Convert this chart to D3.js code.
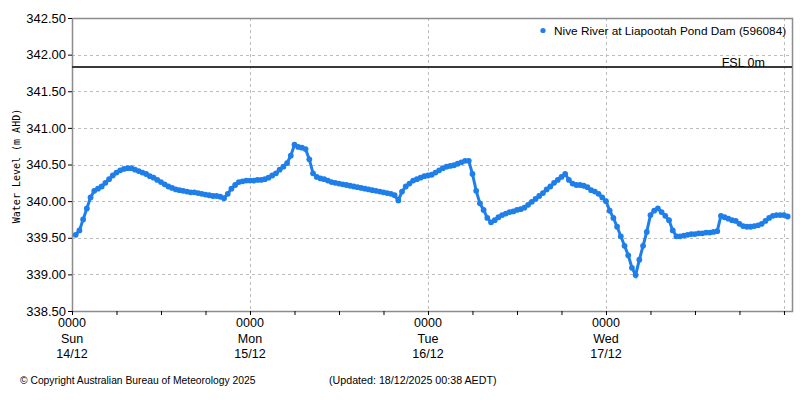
<!DOCTYPE html>
<html>
<head>
<meta charset="utf-8">
<script src="https://cdn.jsdelivr.net/npm/d3@7"></script>
<style>
  html, body { margin: 0; padding: 0; background: #fff; }
  svg { display: block; }
</style>
</head>
<body>
<svg id="chart" width="800" height="400"></svg>
<script>
// ---- data ----
const seriesName = "Nive River at Liapootah Pond Dam (596084)";
const startTime = Date.UTC(2025, 11, 14, 0, 30); // first reading 14/12 00:30
const stepMinutes = 30;
const waterLevel = [
  // Sun 14/12 00:30 -> 15/12 00:00
  339.54, 339.60, 339.75, 339.90, 340.05, 340.14, 340.17, 340.20, 340.25, 340.30,
  340.35, 340.39, 340.42, 340.44, 340.45, 340.45, 340.43, 340.41, 340.39, 340.37,
  340.34, 340.32, 340.29, 340.26, 340.23, 340.20, 340.18, 340.16, 340.15, 340.14,
  340.13, 340.12, 340.12, 340.11, 340.10, 340.09, 340.08, 340.07, 340.07, 340.06,
  340.04, 340.10, 340.17, 340.22, 340.26, 340.27, 340.28, 340.28,
  // Mon 15/12 00:30 -> 16/12 00:00
  340.28, 340.29, 340.29, 340.30, 340.32, 340.35, 340.38, 340.43, 340.47, 340.52,
  340.62, 340.77, 340.74, 340.73, 340.71, 340.57, 340.38, 340.33, 340.31, 340.30,
  340.28, 340.26, 340.25, 340.24, 340.23, 340.22, 340.21, 340.20, 340.19, 340.18,
  340.17, 340.16, 340.15, 340.14, 340.13, 340.12, 340.11, 340.10, 340.08, 340.01,
  340.13, 340.20, 340.24, 340.28, 340.30, 340.32, 340.34, 340.35,
  // Tue 16/12 00:30 -> 17/12 00:00
  340.36, 340.39, 340.42, 340.45, 340.47, 340.48, 340.49, 340.51, 340.53, 340.55,
  340.55, 340.37, 340.14, 339.97, 339.88, 339.77, 339.71, 339.74, 339.78, 339.81,
  339.83, 339.85, 339.86, 339.88, 339.89, 339.91, 339.95, 339.99, 340.03, 340.07,
  340.11, 340.16, 340.20, 340.25, 340.29, 340.33, 340.37, 340.29, 340.24, 340.22,
  340.22, 340.21, 340.19, 340.15, 340.13, 340.10, 340.05, 340.00,
  // Wed 17/12 00:30 -> 18/12 00:30
  339.87, 339.77, 339.65, 339.52, 339.39, 339.26, 339.09, 338.99, 339.20, 339.39,
  339.58, 339.81, 339.87, 339.90, 339.85, 339.80, 339.74, 339.60, 339.52, 339.52,
  339.53, 339.54, 339.55, 339.55, 339.56, 339.56, 339.57, 339.57, 339.58, 339.59,
  339.80, 339.78, 339.76, 339.74, 339.73, 339.69, 339.66, 339.65, 339.65, 339.66,
  339.67, 339.69, 339.73, 339.77, 339.80, 339.81, 339.81, 339.81, 339.79
];
const fslLevel = 341.83;
const fslLabel = "FSL 0m";
const yTicks = [338.5, 339.0, 339.5, 340.0, 340.5, 341.0, 341.5, 342.0, 342.5];
const dayTicks = [
  { t: Date.UTC(2025, 11, 14), hhmm: "0000", day: "Sun", date: "14/12" },
  { t: Date.UTC(2025, 11, 15), hhmm: "0000", day: "Mon", date: "15/12" },
  { t: Date.UTC(2025, 11, 16), hhmm: "0000", day: "Tue", date: "16/12" },
  { t: Date.UTC(2025, 11, 17), hhmm: "0000", day: "Wed", date: "17/12" }
];
const gridDays = [Date.UTC(2025, 11, 15), Date.UTC(2025, 11, 16), Date.UTC(2025, 11, 17), Date.UTC(2025, 11, 18)];
const xDomain = [Date.UTC(2025, 11, 14, 0, 0), Date.UTC(2025, 11, 18, 1, 5)];
const yAxisTitle = "Water Level (m AHD)";
const copyright = "\u00A9 Copyright Australian Bureau of Meteorology 2025";
const updated = "(Updated: 18/12/2025 00:38 AEDT)";

// ---- chart ----
const data = waterLevel.map((v, i) => ({ t: new Date(startTime + i * stepMinutes * 60000), v }));

const mLeft = 72, mRight = 792, mTop = 18, mBottom = 311;
const svg = d3.select("#chart");
const x = d3.scaleUtc().domain(xDomain.map(d => new Date(d))).range([mLeft, mRight]);
const y = d3.scaleLinear().domain([338.5, 342.5]).range([mBottom, mTop]);
const font = "'Liberation Sans', Arial, sans-serif";
const blue = "#1f7fea";

// horizontal grid
svg.append("g").selectAll("line").data(yTicks.slice(1)).join("line")
  .attr("x1", mLeft).attr("x2", mRight)
  .attr("y1", d => Math.round(y(d)) + 0.5).attr("y2", d => Math.round(y(d)) + 0.5)
  .attr("stroke", "#bdbdbd").attr("stroke-dasharray", "3,3");

// vertical grid at day boundaries
svg.append("g").selectAll("line").data(gridDays).join("line")
  .attr("x1", d => Math.round(x(new Date(d))) + 0.5).attr("x2", d => Math.round(x(new Date(d))) + 0.5)
  .attr("y1", mTop).attr("y2", mBottom)
  .attr("stroke", "#bdbdbd").attr("stroke-dasharray", "3,3");

// frame
svg.append("rect").attr("x", mLeft + 0.5).attr("y", mTop + 0.5)
  .attr("width", mRight - mLeft).attr("height", mBottom - mTop)
  .attr("fill", "none").attr("stroke", "#8c8c8c").attr("stroke-width", 1.5);

// y axis
const yAxis = d3.axisLeft(y).tickValues(yTicks).tickSize(4).tickPadding(2)
  .tickFormat(d3.format(".2f"));
const gy = svg.append("g").attr("transform", `translate(${mLeft},0)`).call(yAxis);
gy.select(".domain").remove();
gy.selectAll("text").attr("font-family", font).attr("font-size", 13).attr("fill", "#000");
gy.selectAll("line").attr("stroke", "#000");

// x axis ticks every 6 hours
const xAxis = d3.axisBottom(x).ticks(d3.utcHour.every(6)).tickSize(4).tickFormat("");
const gx = svg.append("g").attr("transform", `translate(0,${mBottom})`).call(xAxis);
gx.select(".domain").remove();
gx.selectAll("line").attr("stroke", "#000");

// x tick labels
const lbl = svg.append("g").selectAll("text").data(dayTicks).join("text")
  .attr("text-anchor", "middle").attr("font-family", font).attr("font-size", 12.5).attr("fill", "#000");
lbl.append("tspan").attr("x", d => x(new Date(d.t))).attr("y", 327).text(d => d.hhmm);
lbl.append("tspan").attr("x", d => x(new Date(d.t))).attr("y", 343).text(d => d.day);
lbl.append("tspan").attr("x", d => x(new Date(d.t))).attr("y", 358).text(d => d.date);

// FSL line
svg.append("line").attr("x1", mLeft).attr("x2", mRight)
  .attr("y1", y(fslLevel)).attr("y2", y(fslLevel))
  .attr("stroke", "#3a3a3a").attr("stroke-width", 2);
svg.append("text").attr("x", 765).attr("y", y(fslLevel) - 0.5).attr("text-anchor", "end")
  .attr("font-family", font).attr("font-size", 12.5).attr("fill", "#000").text(fslLabel);

// series line + dots
svg.append("path").datum(data)
  .attr("d", d3.line().x(d => x(d.t)).y(d => y(d.v)))
  .attr("fill", "none").attr("stroke", blue).attr("stroke-width", 3);
svg.append("g").selectAll("circle").data(data).join("circle")
  .attr("cx", d => x(d.t)).attr("cy", d => y(d.v)).attr("r", 2.9).attr("fill", blue);

// legend
svg.append("circle").attr("cx", 543).attr("cy", 30.5).attr("r", 2.6).attr("fill", blue);
svg.append("text").attr("x", 554).attr("y", 35).attr("font-family", font).attr("font-size", 11.8)
  .attr("fill", "#000").text(seriesName);

// y axis title
svg.append("text").attr("transform", "translate(20,166) rotate(-90)").attr("text-anchor", "middle")
  .attr("font-family", "'DejaVu Sans Mono', monospace").attr("font-size", 10).attr("fill", "#000")
  .text(yAxisTitle);

// footer
svg.append("text").attr("x", 20).attr("y", 384).attr("font-family", font).attr("font-size", 10.3)
  .attr("fill", "#000").text(copyright);
svg.append("text").attr("x", 329).attr("y", 384).attr("font-family", font).attr("font-size", 10.7)
  .attr("fill", "#000").text(updated);
</script>
</body>
</html>
